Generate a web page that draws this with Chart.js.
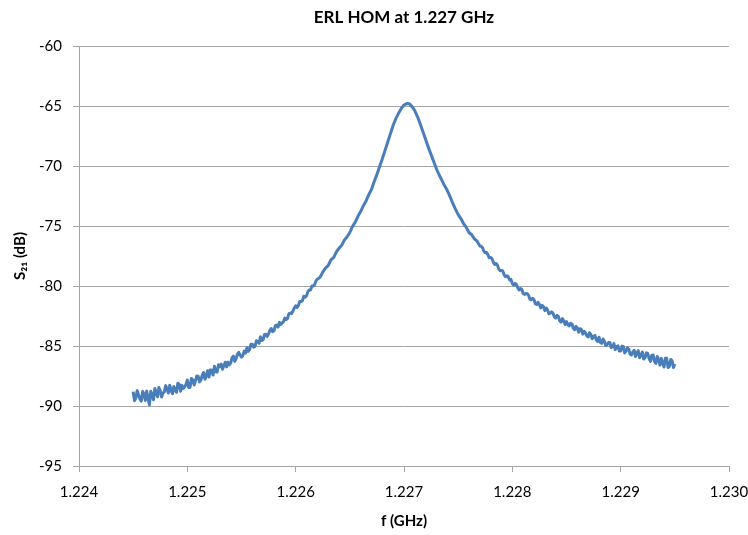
<!DOCTYPE html>
<html>
<head>
<meta charset="utf-8">
<script src="https://cdn.jsdelivr.net/npm/chart.js@4/dist/chart.umd.min.js"></script>
<style>html,body{margin:0;padding:0;background:#fff;}canvas{display:block;}</style>
</head>
<body>
<canvas id="c" width="748" height="535"></canvas>
<script>
const chartTitle = 'ERL HOM at 1.227 GHz';
const xTitle = 'f (GHz)';
const yTitle = 'S₂₁ (dB)';
const xTicks = [1.224, 1.225, 1.226, 1.227, 1.228, 1.229, 1.230];
const yTicks = [-95, -90, -85, -80, -75, -70, -65, -60];

const freqGHz = [
1.2245000,1.2245125,1.2245250,1.2245375,1.2245500,1.2245625,1.2245750,1.2245875,
1.2246000,1.2246125,1.2246250,1.2246375,1.2246500,1.2246625,1.2246750,1.2246875,
1.2247000,1.2247125,1.2247250,1.2247375,1.2247500,1.2247625,1.2247750,1.2247875,
1.2248000,1.2248125,1.2248250,1.2248375,1.2248500,1.2248625,1.2248750,1.2248875,
1.2249000,1.2249125,1.2249250,1.2249375,1.2249500,1.2249625,1.2249750,1.2249875,
1.2250000,1.2250125,1.2250250,1.2250375,1.2250500,1.2250625,1.2250750,1.2250875,
1.2251000,1.2251125,1.2251250,1.2251375,1.2251500,1.2251625,1.2251750,1.2251875,
1.2252000,1.2252125,1.2252250,1.2252375,1.2252500,1.2252625,1.2252750,1.2252875,
1.2253000,1.2253125,1.2253250,1.2253375,1.2253500,1.2253625,1.2253750,1.2253875,
1.2254000,1.2254125,1.2254250,1.2254375,1.2254500,1.2254625,1.2254750,1.2254875,
1.2255000,1.2255125,1.2255250,1.2255375,1.2255500,1.2255625,1.2255750,1.2255875,
1.2256000,1.2256125,1.2256250,1.2256375,1.2256500,1.2256625,1.2256750,1.2256875,
1.2257000,1.2257125,1.2257250,1.2257375,1.2257500,1.2257625,1.2257750,1.2257875,
1.2258000,1.2258125,1.2258250,1.2258375,1.2258500,1.2258625,1.2258750,1.2258875,
1.2259000,1.2259125,1.2259250,1.2259375,1.2259500,1.2259625,1.2259750,1.2259875,
1.2260000,1.2260125,1.2260250,1.2260375,1.2260500,1.2260625,1.2260750,1.2260875,
1.2261000,1.2261125,1.2261250,1.2261375,1.2261500,1.2261625,1.2261750,1.2261875,
1.2262000,1.2262250,1.2262500,1.2262750,
1.2263000,1.2263250,1.2263500,1.2263750,
1.2264000,1.2264250,1.2264500,1.2264750,
1.2265000,1.2265250,1.2265500,1.2265750,
1.2266000,1.2266250,1.2266500,1.2266750,
1.2267000,1.2267250,1.2267500,1.2267750,
1.2268000,1.2268250,1.2268500,1.2268750,
1.2269000,1.2269250,1.2269500,1.2269750,
1.2270000,1.2270250,1.2270500,1.2270750,
1.2271000,1.2271250,1.2271500,1.2271750,
1.2272000,1.2272250,1.2272500,1.2272750,
1.2273000,1.2273250,1.2273500,1.2273750,
1.2274000,1.2274250,1.2274500,1.2274750,
1.2275000,1.2275250,1.2275500,1.2275750,
1.2276000,1.2276250,1.2276500,1.2276750,
1.2277000,1.2277125,1.2277250,1.2277375,1.2277500,1.2277625,1.2277750,1.2277875,
1.2278000,1.2278125,1.2278250,1.2278375,1.2278500,1.2278625,1.2278750,1.2278875,
1.2279000,1.2279125,1.2279250,1.2279375,1.2279500,1.2279625,1.2279750,1.2279875,
1.2280000,1.2280125,1.2280250,1.2280375,1.2280500,1.2280625,1.2280750,1.2280875,
1.2281000,1.2281125,1.2281250,1.2281375,1.2281500,1.2281625,1.2281750,1.2281875,
1.2282000,1.2282125,1.2282250,1.2282375,1.2282500,1.2282625,1.2282750,1.2282875,
1.2283000,1.2283125,1.2283250,1.2283375,1.2283500,1.2283625,1.2283750,1.2283875,
1.2284000,1.2284125,1.2284250,1.2284375,1.2284500,1.2284625,1.2284750,1.2284875,
1.2285000,1.2285125,1.2285250,1.2285375,1.2285500,1.2285625,1.2285750,1.2285875,
1.2286000,1.2286125,1.2286250,1.2286375,1.2286500,1.2286625,1.2286750,1.2286875,
1.2287000,1.2287125,1.2287250,1.2287375,1.2287500,1.2287625,1.2287750,1.2287875,
1.2288000,1.2288125,1.2288250,1.2288375,1.2288500,1.2288625,1.2288750,1.2288875,
1.2289000,1.2289125,1.2289250,1.2289375,1.2289500,1.2289625,1.2289750,1.2289875,
1.2290000,1.2290125,1.2290250,1.2290375,1.2290500,1.2290625,1.2290750,1.2290875,
1.2291000,1.2291125,1.2291250,1.2291375,1.2291500,1.2291625,1.2291750,1.2291875,
1.2292000,1.2292125,1.2292250,1.2292375,1.2292500,1.2292625,1.2292750,1.2292875,
1.2293000,1.2293125,1.2293250,1.2293375,1.2293500,1.2293625,1.2293750,1.2293875,
1.2294000,1.2294125,1.2294250,1.2294375,1.2294500,1.2294625,1.2294750,1.2294875,
1.2295000
];

const s21dB = [
-88.80,-89.56,-89.31,-88.72,-89.07,-89.43,-89.59,-88.80,
-89.00,-89.53,-88.75,-89.38,-89.90,-88.78,-89.05,-89.48,
-88.55,-88.87,-89.24,-88.46,-88.73,-89.25,-88.91,-88.83,
-88.30,-88.58,-88.92,-88.28,-88.69,-88.98,-88.37,-88.68,
-88.86,-88.11,-88.18,-88.77,-88.28,-88.54,-88.42,-88.20,
-87.83,-88.45,-88.45,-87.70,-87.81,-88.25,-87.90,-87.50,
-87.51,-87.99,-87.84,-87.44,-87.21,-87.77,-87.49,-87.06,
-87.58,-86.99,-87.02,-87.42,-86.69,-87.14,-87.17,-86.57,
-86.73,-86.51,-86.94,-86.65,-86.35,-86.74,-86.35,-86.57,
-86.43,-85.98,-85.85,-86.28,-86.05,-85.68,-85.52,-85.78,
-85.92,-85.77,-85.43,-85.59,-85.15,-85.45,-85.28,-84.86,
-84.85,-85.10,-85.04,-84.56,-84.62,-84.77,-84.24,-84.54,
-84.47,-84.04,-84.03,-84.20,-83.99,-83.68,-83.54,-83.80,
-83.75,-83.31,-83.26,-83.42,-83.03,-83.21,-83.07,-82.98,
-82.67,-82.80,-82.70,-82.30,-82.25,-82.30,-82.08,-81.83,
-81.65,-81.79,-81.62,-81.29,-81.29,-81.22,-80.85,-80.94,
-80.82,-80.47,-80.34,-80.33,-80.00,-80.01,-79.88,-79.58,
-79.43,-79.28,-78.84,-78.51,
-78.31,-77.83,-77.63,-77.18,
-76.85,-76.61,-76.16,-75.90,
-75.54,-75.03,-74.68,-74.19,
-73.80,-73.31,-72.91,-72.39,
-71.95,-71.30,-70.70,-70.05,
-69.40,-68.70,-68.00,-67.30,
-66.60,-66.05,-65.60,-65.20,
-64.92,-64.80,-64.82,-65.05,
-65.40,-65.90,-66.50,-67.15,
-67.80,-68.45,-69.05,-69.65,
-70.25,-70.75,-71.20,-71.65,
-72.05,-72.55,-73.10,-73.60,
-74.05,-74.38,-74.81,-75.12,
-75.54,-75.73,-76.07,-76.27,
-76.66,-76.68,-76.81,-77.11,-77.23,-77.20,-77.40,-77.65,
-77.62,-77.73,-78.02,-78.20,-78.13,-78.26,-78.59,-78.73,
-78.70,-78.76,-79.09,-79.23,-79.14,-79.23,-79.49,-79.45,
-79.80,-79.92,-79.78,-79.87,-80.15,-80.34,-80.21,-80.28,
-80.62,-80.70,-80.63,-80.64,-80.78,-81.11,-81.14,-81.03,
-81.15,-81.48,-81.55,-81.36,-81.53,-81.82,-81.62,-81.72,
-82.05,-81.83,-81.99,-82.32,-82.27,-82.16,-82.26,-82.57,
-82.67,-82.45,-82.53,-82.91,-83.01,-82.72,-82.91,-83.21,
-82.96,-83.20,-83.33,-83.10,-83.17,-83.52,-83.64,-83.37,
-83.50,-83.86,-83.56,-83.61,-84.01,-83.77,-83.90,-84.15,
-84.25,-83.90,-84.03,-84.39,-84.20,-84.12,-84.50,-84.62,
-84.27,-84.69,-84.78,-84.42,-84.60,-84.96,-84.89,-84.70,
-84.70,-85.14,-85.03,-84.80,-85.30,-85.04,-84.98,-85.42,
-85.42,-85.01,-85.03,-85.58,-85.43,-85.15,-85.25,-85.69,
-85.75,-85.48,-85.36,-85.88,-85.58,-85.39,-85.97,-85.77,
-85.50,-86.09,-85.98,-85.57,-85.62,-86.04,-86.28,-85.77,
-85.75,-86.29,-86.45,-85.87,-86.10,-86.59,-86.03,-86.42,
-86.75,-86.02,-86.03,-86.79,-86.70,-86.12,-86.23,-86.79,
-86.50
];

const points = freqGHz.map((f, i) => ({x: f, y: s21dB[i]}));
const FONT = 'Lato, "Open Sans", "Liberation Sans", sans-serif';
const GRID = '#a6a6a6';

const titlePlugin = {
  id: 'plotTitle',
  afterDraw(chart) {
    const ctx = chart.ctx, a = chart.chartArea;
    ctx.save();
    ctx.font = 'bold 17px ' + FONT;
    ctx.fillStyle = '#000';
    ctx.textAlign = 'center';
    ctx.textBaseline = 'middle';
    ctx.fillText(chartTitle, (a.left + a.right) / 2, 18);
    ctx.restore();
  }
};

new Chart(document.getElementById('c'), {
  type: 'scatter',
  data: {
    datasets: [{
      data: points,
      showLine: true,
      borderColor: '#4a7ebb',
      backgroundColor: '#4a7ebb',
      borderWidth: 3,
      borderJoinStyle: 'round',
      pointRadius: 0,
      tension: 0,
      fill: false
    }]
  },
  options: {
    responsive: false,
    animation: false,
    devicePixelRatio: 1,
    layout: { padding: { top: 46, right: 0, left: 0, bottom: 0 } },
    plugins: { legend: { display: false }, tooltip: { enabled: false }, title: { display: false } },
    scales: {
      x: {
        type: 'linear',
        min: 1.224, max: 1.230,
        afterBuildTicks: s => { s.ticks = xTicks.map(v => ({value: v})); },
        afterFit: s => { s.height = 69; s.paddingRight = 19; s.paddingLeft = 0; },
        ticks: {
          autoSkip: false, maxRotation: 0,
          font: { family: FONT, size: 15 }, color: '#000', padding: 11,
          callback: v => v.toFixed(3)
        },
        grid: { drawOnChartArea: false, drawTicks: true, tickLength: 6, color: GRID },
        border: { display: true, color: GRID },
        title: { display: true, text: xTitle, font: { family: FONT, size: 15, weight: 'bold' }, color: '#000', padding: { top: 0, bottom: 5 } }
      },
      y: {
        type: 'linear',
        min: -95, max: -60,
        afterBuildTicks: s => { s.ticks = yTicks.map(v => ({value: v})); },
        afterFit: s => { s.width = 79; },
        ticks: {
          font: { family: FONT, size: 15 }, color: '#000', padding: 11,
          callback: v => String(v)
        },
        grid: { drawTicks: true, tickLength: 6, color: GRID },
        border: { display: true, color: GRID },
        title: { display: true, text: yTitle, font: { family: FONT, size: 15, weight: 'bold' }, color: '#000', padding: { top: 11, bottom: 0 } }
      }
    }
  },
  plugins: [titlePlugin]
});
</script>
</body>
</html>
